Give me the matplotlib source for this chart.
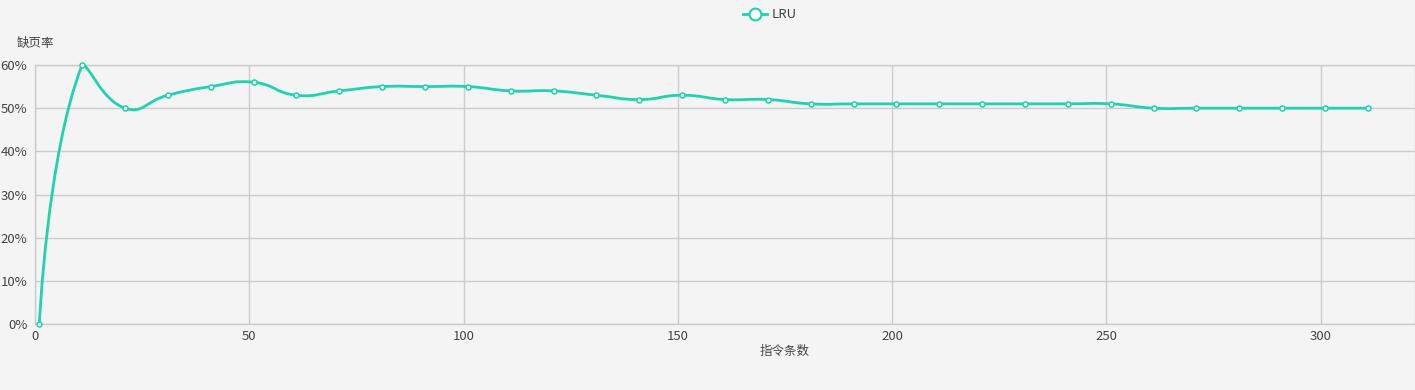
import matplotlib
matplotlib.use("Agg")
import matplotlib.pyplot as plt
from matplotlib.path import Path
from matplotlib.patches import PathPatch
from matplotlib.lines import Line2D
from matplotlib.ticker import FuncFormatter
import numpy as np

plt.rcParams['font.family'] = ['Noto Sans CJK SC', 'DejaVu Sans']

# Page-fault rate of LRU against number of executed instructions
instructions = [1, 11, 21, 31, 41, 51, 61, 71, 81, 91, 101, 111, 121, 131, 141, 151,
                161, 171, 181, 191, 201, 211, 221, 231, 241, 251, 261, 271, 281, 291, 301, 311]
fault_rate = [0, 60, 50, 53, 55, 56, 53, 54, 55, 55, 55, 54, 54, 53, 52, 53,
              52, 52, 51, 51, 51, 51, 51, 51, 51, 51, 50, 50, 50, 50, 50, 50]
x_ticks = [0, 50, 100, 150, 200, 250, 300]
y_ticks = [0, 10, 20, 30, 40, 50, 60]
series_name = "LRU"
x_label = "指令条数"
y_label = "缺页率"

BG = "#f4f4f4"
LINE = "#1fd3ac"
GRID = "#cccccc"
TEXT = "#444444"

W, H = 1415, 390
fig = plt.figure(figsize=(W / 100, H / 100), dpi=100, facecolor=BG)
ax = fig.add_axes([35 / W, 1 - 324 / H, (1415 - 35) / W, (324 - 65) / H], facecolor=BG)
ax.set_xlim(0, 322)
ax.set_ylim(0, 60)
ax.set_xticks(x_ticks)
ax.set_yticks(y_ticks)
ax.yaxis.set_major_formatter(FuncFormatter(lambda v, p: f"{v:.0f}%"))
ax.grid(True, color=GRID, linewidth=1)
ax.set_axisbelow(True)
for s in ax.spines.values():
    s.set_color(GRID)
    s.set_linewidth(1)
ax.tick_params(length=0, colors=TEXT, labelsize=9.5)
ax.tick_params(axis='x', pad=4)
ax.tick_params(axis='y', pad=5.5)

# Smooth curve through the points: bezier control points computed in screen
# space, kept inside the bounding box of all the points.
fig.canvas.draw()
pts = ax.transData.transform(np.column_stack([instructions, fault_rate]))
lo, hi = pts.min(axis=0), pts.max(axis=0)
n = len(pts)
smooth = 0.5
cps = []
for i in range(n):
    p = pts[i]
    if i == 0 or i == n - 1:
        cps.append((p.copy(), p.copy()))
        continue
    prev, nxt = pts[i - 1], pts[i + 1]
    v = (nxt - prev) * smooth
    l0 = np.hypot(*(p - prev))
    l1 = np.hypot(*(nxt - p))
    c0 = np.clip(p - v * l0 / (l0 + l1), lo, hi)
    c1 = np.clip(p + v * l1 / (l0 + l1), lo, hi)
    cps.append((c0, c1))

verts = [pts[0]]
codes = [Path.MOVETO]
for i in range(1, n):
    verts += [cps[i - 1][1], cps[i][0], pts[i]]
    codes += [Path.CURVE4] * 3
inv = ax.transData.inverted()
verts = inv.transform(np.array(verts))
ax.add_patch(PathPatch(Path(verts, codes), facecolor='none', edgecolor=LINE,
                       linewidth=2, zorder=3, clip_on=False))
ax.plot(instructions, fault_rate, linestyle='none', marker='o', markersize=3.6,
        markerfacecolor='white', markeredgecolor=LINE, markeredgewidth=1.1,
        zorder=4, clip_on=False)

fig.text(17 / W, 1 - 43 / H, y_label, fontsize=9, color=TEXT, ha='left', va='center')
fig.text(785 / W, 1 - 351 / H, x_label, fontsize=9, color=TEXT, ha='center', va='center')

handle = Line2D([], [], color=LINE, linewidth=2, marker='o', markersize=8.5,
                markerfacecolor='white', markeredgecolor=LINE, markeredgewidth=1.5)
fig.legend([handle], [series_name], loc='center', bbox_to_anchor=(770 / W, 1 - 15 / H),
           frameon=False, fontsize=9.5, handlelength=1.8, handletextpad=0.4,
           labelcolor=TEXT)

fig.savefig("out.png", dpi=100, facecolor=BG)
